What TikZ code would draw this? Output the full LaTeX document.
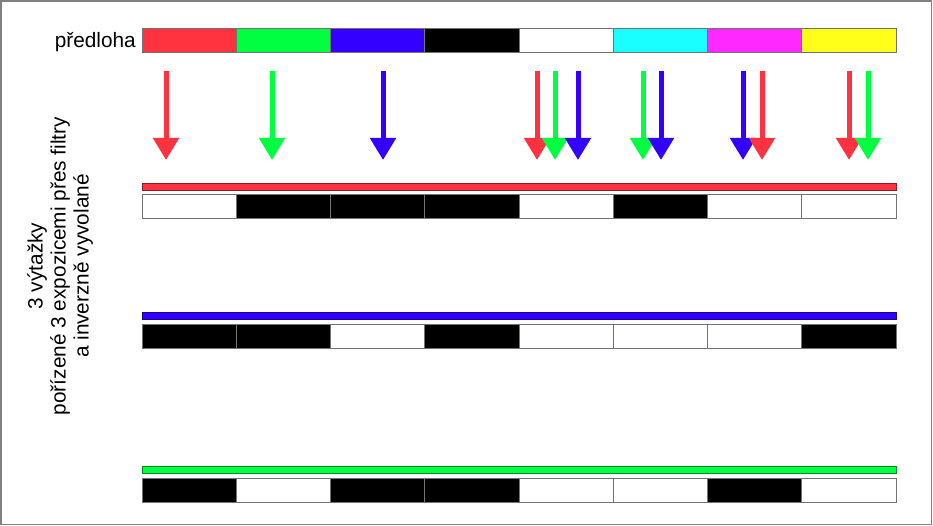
\documentclass[tikz,border=0pt]{standalone}
\usepackage{fontspec}
\setmainfont{Liberation Sans}
\usetikzlibrary{arrows.meta}
\definecolor{cred}{HTML}{FF3340}
\definecolor{cgreen}{HTML}{00FF40}
\definecolor{cblue}{HTML}{3300FF}
\definecolor{ccyan}{HTML}{19FFFF}
\definecolor{cmag}{HTML}{FF28FF}
\definecolor{cyel}{HTML}{FFFF19}
\tikzset{
  cell/.style={draw=black!55, line width=1pt, inner sep=0pt, outer sep=0pt,
    anchor=north west, minimum width=94.25pt, minimum height=24pt},
  filmbar/.style={draw=#1!55!black, fill=#1, line width=1pt, inner sep=0pt,
    anchor=north west, minimum width=754pt, minimum height=7pt},
  ray/.style={draw=#1, line width=5pt, -{Triangle[width=25pt,length=22pt]}},
  txt/.style={inner sep=0pt, font=\fontsize{20.8}{23}\selectfont}
}

\begin{document}
\begin{tikzpicture}[x=1pt,y=-1pt]
          \useasboundingbox (0,0) rectangle (933,526);
          \draw [black!50, line width=1.5pt] (1,1) rectangle (931.5,524.5);
          % predloha
          \node [txt, anchor=base east] (lbl) at (136,48) {předloha};
          \foreach \c [count=\i from 0] in {cred,cgreen,cblue,black,white,ccyan,cmag,cyel}
            \node [cell, fill=\c] (p\i) at (142+94.25*\i,29) {};
          % rays through the filters
          \foreach \x/\c [count=\i] in {166/cred,272/cgreen,383/cblue,537/cred,
              555/cgreen,578/cblue,643/cgreen,661/cblue,743/cblue,762/cred,
              849/cred,868/cgreen} {
            \coordinate (s\i) at (\x,71);
            \coordinate (t\i) at (\x,160);
            \draw [ray=\c] (s\i) -- (t\i);
          }
          % three negatives
          \node [filmbar=cred] (rbar) at (142,183) {};
          \foreach \c [count=\i from 0] in {white,black,black,black,white,black,white,white}
            \node [cell, fill=\c] (r\i) at (142+94.25*\i,195) {};
          \node [filmbar=cblue] (bbar) at (142,312) {};
          \foreach \c [count=\i from 0] in {black,black,white,black,white,white,white,black}
            \node [cell, fill=\c] (b\i) at (142+94.25*\i,324) {};
          \node [filmbar=cgreen] (gbar) at (142,466) {};
          \foreach \c [count=\i from 0] in {black,white,black,black,white,white,black,white}
            \node [cell, fill=\c] (g\i) at (142+94.25*\i,478) {};
          \node [txt, rotate=90, align=center] (side) at (60,266)
            {3 výtažky\\pořízené 3 expozicemi přes filtry\\a inverzně vyvolané};
        \end{tikzpicture}
\end{document}
